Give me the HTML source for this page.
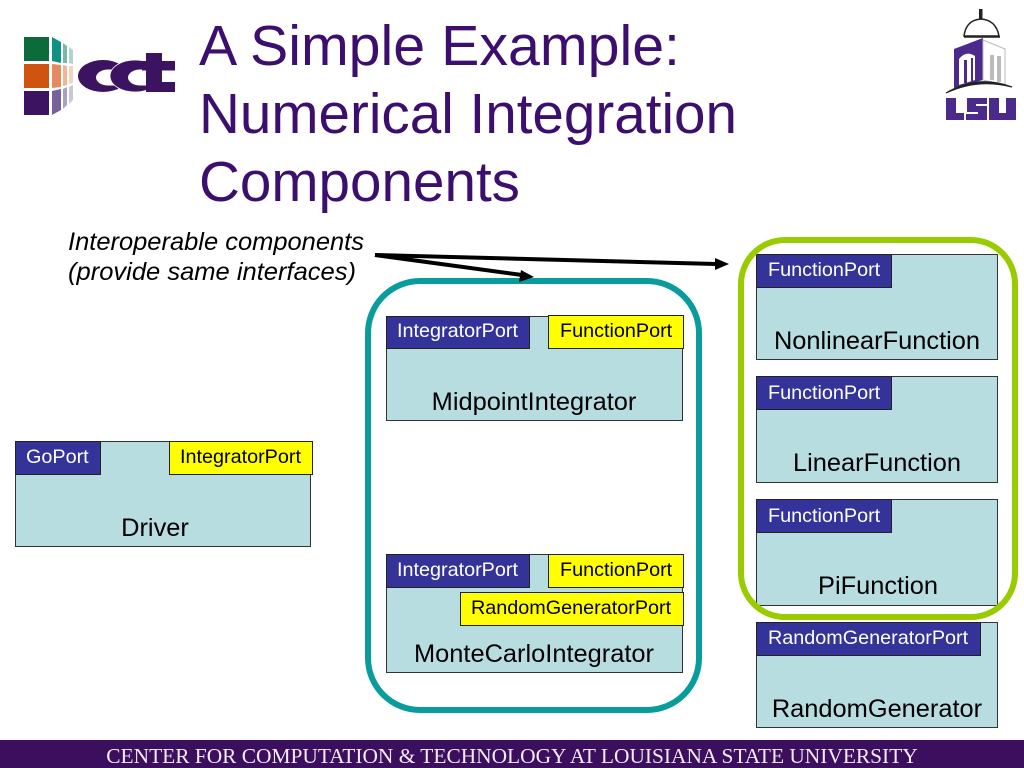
<!DOCTYPE html>
<html><head><meta charset="utf-8"><style>
html,body{margin:0;padding:0;background:#fff;width:1024px;height:768px;overflow:hidden}
svg{display:block}
text{font-family:"Liberation Sans",sans-serif}
.p{font-size:19.8px}
.n{font-size:25.4px;fill:#000;text-anchor:middle}
.w{fill:#fff}.k{fill:#000}
.box{fill:#b8dde1;stroke:#333;stroke-width:1}
.blue{fill:#333399;stroke:#222;stroke-width:1}
.yel{fill:#ffff00;stroke:#222;stroke-width:1}
</style></head><body>
<svg width="1024" height="768" viewBox="0 0 1024 768" xmlns="http://www.w3.org/2000/svg">
<rect width="1024" height="768" fill="#fff"/>
<!-- CCT logo -->
<rect x="24" y="37" width="25" height="24" fill="#0b6b3a"/>
<rect x="24" y="64" width="25" height="24" fill="#cf5410"/>
<rect x="24" y="91" width="25" height="24" fill="#3c1361"/>
<polygon points="52,37 61,42 61,63 52,61" fill="#0f9184"/>
<polygon points="52,64 61,65 61,87 52,88" fill="#e58a5f"/>
<polygon points="52,91 61,89 61,110 52,115" fill="#76619a"/>
<polygon points="63,43 67,46 67,63 63,63" fill="#79b8a8"/>
<polygon points="63,65 67,66 67,85 63,86" fill="#efb595"/>
<polygon points="63,89 67,87 67,105 63,109" fill="#aaa0c2"/>
<polygon points="69,47 73,50 73,64 69,63" fill="#b0d6cc"/>
<polygon points="69,66 73,66 73,83 69,84" fill="#f5d3bf"/>
<polygon points="69,87 73,85 73,100 69,104" fill="#ccc6da"/>
<ellipse cx="103" cy="76" rx="25" ry="16" fill="#3c1361"/>
<ellipse cx="108" cy="77.5" rx="12" ry="8" fill="#fff"/>
<rect x="108" y="69.5" width="14" height="16" fill="#fff"/>
<ellipse cx="135" cy="76" rx="25" ry="16" fill="#3c1361" stroke="#fff" stroke-width="0.8"/>
<ellipse cx="140" cy="77.5" rx="12" ry="8" fill="#fff"/>
<rect x="141" y="69.5" width="8" height="16" fill="#fff"/>
<rect x="146" y="53" width="16" height="39" fill="#3c1361"/>
<rect x="142" y="61" width="33" height="9.5" fill="#3c1361"/>
<rect x="150" y="82" width="25" height="10" fill="#3c1361"/>
<!-- LSU logo -->
<rect x="979" y="9" width="3.5" height="11" fill="#222"/>
<path d="M964 36 Q966 20 981 19 Q996 20 999 36 Z" fill="#fff" stroke="#222" stroke-width="1.5"/>
<path d="M964 37 L1000 37" stroke="#222" stroke-width="1.5"/>
<polygon points="954,49 983,38 983,80 954,88" fill="#4b2a8c"/>
<path d="M959 85 L959 59 Q966 50 975 56 L975 80 Z" fill="#fff"/>
<rect x="964" y="60" width="3" height="23" fill="#4b2a8c"/>
<rect x="971" y="58" width="2" height="23" fill="#4b2a8c"/>
<polygon points="983,40 1005,49 1005,85 983,80" fill="#fff" stroke="#bbb"/>
<rect x="990" y="55" width="4" height="25" fill="#bbb"/>
<rect x="997" y="56" width="4" height="26" fill="#bbb"/>
<path d="M946 93 Q978 74 1012 87 Q978 78 946 93 Z" fill="#222" stroke="#222" stroke-width="1.2"/>
<path d="M946 98 h10 v15 h8 v7 h-18 z" fill="#4b2a8c"/>
<path d="M967 98 h20 v6 h-11 v2 h11 v14 h-21 v-6 h12 v-2 h-11 z" fill="#4b2a8c"/>
<path d="M989 98 h10 v15 h7 v-15 h10 v22 h-27 z" fill="#4b2a8c"/>
<!-- Title -->
<g fill="#3c0f6e" font-size="56.8">
<text x="199" y="65" textLength="481" lengthAdjust="spacingAndGlyphs">A Simple Example:</text>
<text x="199" y="133" textLength="538" lengthAdjust="spacingAndGlyphs">Numerical Integration</text>
<text x="199" y="201" textLength="321" lengthAdjust="spacingAndGlyphs">Components</text>
</g>
<!-- Note -->
<g font-size="25.4" font-style="italic" fill="#000">
<text x="68" y="250" textLength="296" lengthAdjust="spacingAndGlyphs">Interoperable components</text>
<text x="68" y="280" textLength="288" lengthAdjust="spacingAndGlyphs">(provide same interfaces)</text>
</g>
<!-- Driver -->
<rect class="box" x="15.5" y="441.5" width="295" height="105"/>
<rect class="blue" x="15.5" y="441.5" width="85" height="33"/>
<rect class="yel" x="169.5" y="441.5" width="143" height="33"/>
<text class="p w" x="26" y="463">GoPort</text>
<text class="p k" x="180" y="463">IntegratorPort</text>
<text class="n" x="155" y="536">Driver</text>
<!-- Midpoint -->
<rect class="box" x="386.5" y="316.5" width="296" height="104"/>
<rect class="blue" x="386.5" y="316.5" width="143" height="32"/>
<rect class="yel" x="548.5" y="315.5" width="135" height="33"/>
<text class="p w" x="397" y="337">IntegratorPort</text>
<text class="p k" x="560" y="337">FunctionPort</text>
<text class="n" x="534" y="410">MidpointIntegrator</text>
<!-- MonteCarlo -->
<rect class="box" x="386.5" y="554.5" width="296" height="118"/>
<rect class="blue" x="386.5" y="554.5" width="143" height="33"/>
<rect class="yel" x="548.5" y="554.5" width="135" height="33"/>
<rect class="yel" x="460.5" y="592.5" width="223" height="33"/>
<text class="p w" x="397" y="576">IntegratorPort</text>
<text class="p k" x="560" y="576">FunctionPort</text>
<text class="p k" x="471" y="614">RandomGeneratorPort</text>
<text class="n" x="534" y="662">MonteCarloIntegrator</text>
<!-- Right column -->
<rect class="box" x="756.5" y="254.5" width="241" height="105"/>
<rect class="blue" x="756.5" y="254.5" width="135" height="33"/>
<text class="p w" x="768" y="276">FunctionPort</text>
<text class="n" x="877" y="349">NonlinearFunction</text>
<rect class="box" x="756.5" y="376.5" width="241" height="106"/>
<rect class="blue" x="756.5" y="376.5" width="135" height="33"/>
<text class="p w" x="768" y="399">FunctionPort</text>
<text class="n" x="877" y="471">LinearFunction</text>
<rect class="box" x="756.5" y="499.5" width="241" height="106"/>
<rect class="blue" x="756.5" y="499.5" width="135" height="33"/>
<text class="p w" x="768" y="522">FunctionPort</text>
<text class="n" x="878" y="594">PiFunction</text>
<rect class="box" x="756.5" y="622.5" width="241" height="105"/>
<rect class="blue" x="756.5" y="622.5" width="224" height="33"/>
<text class="p w" x="768" y="644">RandomGeneratorPort</text>
<text class="n" x="877" y="717">RandomGenerator</text>
<!-- Groups -->
<rect x="368" y="281" width="331" height="429" rx="52" ry="52" fill="none" stroke="#089c9c" stroke-width="6"/>
<rect x="741" y="240" width="274" height="377" rx="44" ry="44" fill="none" stroke="#99cc00" stroke-width="6"/>
<!-- Arrows -->
<path d="M375 255 L716 264" stroke="#000" stroke-width="4"/>
<polygon points="715,258 729,264 715,270" fill="#000"/>
<path d="M375 255 L522 275" stroke="#000" stroke-width="4"/>
<polygon points="521,270 534,277 519,282" fill="#000"/>
<!-- Footer -->
<rect x="0" y="740" width="1024" height="28" fill="#3c0f5e"/>
<text x="512" y="763" text-anchor="middle" font-size="21.4" fill="#f2eaf5" style="font-family:'Liberation Serif',serif">CENTER FOR COMPUTATION &amp; TECHNOLOGY AT LOUISIANA STATE UNIVERSITY</text>
</svg>
</body></html>
